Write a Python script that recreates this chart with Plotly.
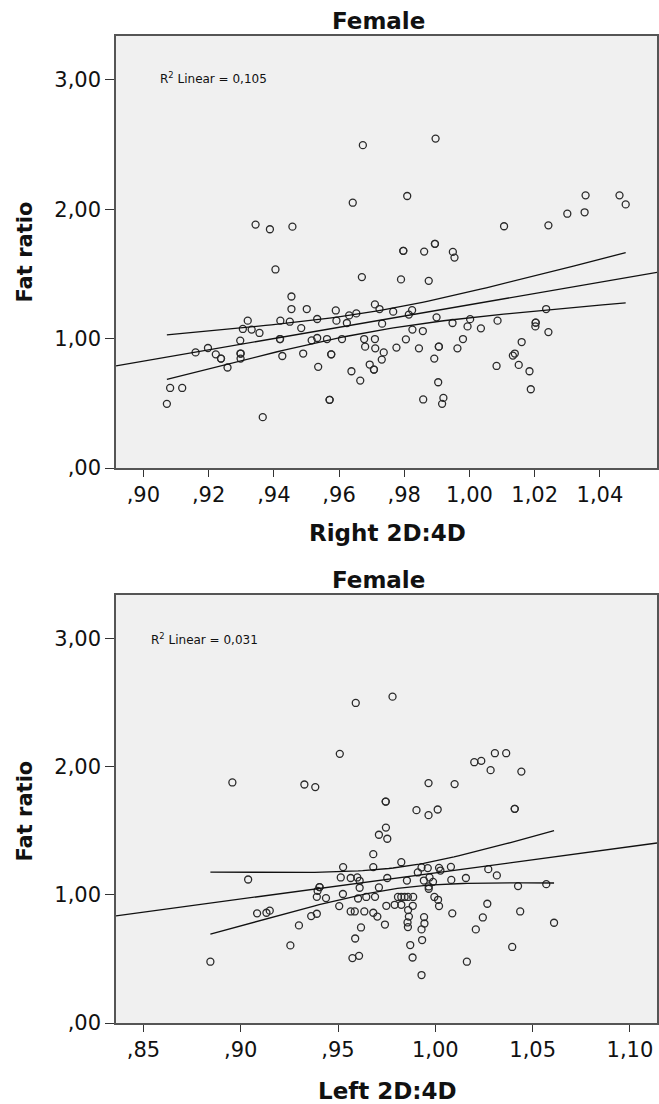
import numpy as np
import plotly.graph_objects as go

# ---------------- data: Right 2D:4D vs Fat ratio ----------------
right_x = [
    0.9673, 0.9642, 0.9344, 0.9388, 0.9457, 0.9405, 0.9670, 0.9454, 0.9454, 0.9501,
    0.9590, 0.9710, 0.9724, 0.9320, 0.9305, 0.9332, 0.9356, 0.9420, 0.9449, 0.9484,
    0.9533, 0.9592, 0.9624, 0.9631, 0.9653, 0.9732, 0.9297, 0.9419, 0.9419, 0.9516,
    0.9533, 0.9563, 0.9609, 0.9677, 0.9710, 0.9680, 0.9711, 0.9737, 0.9731, 0.9694,
    0.9707, 0.9707, 0.9160, 0.9198, 0.9222, 0.9238, 0.9238, 0.9258, 0.9298, 0.9298,
    0.9298, 0.9426, 0.9490, 0.9536, 0.9576, 0.9576, 0.9638, 0.9665, 0.9082, 0.9119,
    0.9072, 0.9366, 0.9571, 0.9571,
    0.9896, 0.9809, 1.0356, 1.0460, 1.0479, 1.0300, 1.0353, 1.0106, 1.0242, 0.9797,
    0.9797, 0.9861, 0.9894, 0.9894, 0.9949, 0.9954, 0.9790, 0.9875, 0.9766, 0.9824,
    0.9814, 0.9899, 0.9948, 0.9994, 1.0002, 1.0035, 1.0086, 1.0235, 1.0203, 1.0203,
    1.0202, 1.0242, 0.9825, 0.9857, 0.9805, 0.9776, 0.9845, 0.9892, 0.9906, 0.9906,
    0.9963, 0.9980, 0.9904, 0.9858, 0.9920, 0.9916, 1.0083, 1.0160, 1.0139, 1.0133,
    1.0151, 1.0184, 1.0188,
]
right_y = [
    2.496, 2.051, 1.882, 1.846, 1.866, 1.535, 1.476, 1.326, 1.229, 1.229,
    1.218, 1.265, 1.229, 1.139, 1.075, 1.070, 1.044, 1.139, 1.131, 1.082,
    1.152, 1.139, 1.121, 1.180, 1.195, 1.116, 0.985, 0.997, 0.997, 0.987,
    1.005, 0.997, 0.997, 0.997, 0.997, 0.938, 0.925, 0.894, 0.838, 0.800,
    0.761, 0.761, 0.894, 0.928, 0.879, 0.846, 0.846, 0.777, 0.885, 0.885,
    0.846, 0.866, 0.885, 0.782, 0.879, 0.879, 0.748, 0.676, 0.619, 0.619,
    0.496, 0.393, 0.527, 0.527,
    2.547, 2.103, 2.108, 2.108, 2.038, 1.966, 1.977, 1.869, 1.876, 1.679,
    1.679, 1.673, 1.733, 1.733, 1.671, 1.627, 1.458, 1.447, 1.209, 1.220,
    1.186, 1.165, 1.121, 1.095, 1.151, 1.080, 1.139, 1.229, 1.124, 1.124,
    1.095, 1.051, 1.070, 1.059, 0.995, 0.931, 0.925, 0.846, 0.938, 0.938,
    0.925, 0.997, 0.663, 0.530, 0.542, 0.496, 0.789, 0.974, 0.885, 0.869,
    0.797, 0.748, 0.609,
]

# ---------------- data: Left 2D:4D vs Fat ratio ----------------
left_x = [
    0.9591, 0.9509, 0.8957, 0.9327, 0.9383, 0.9038, 0.9526, 0.9681, 0.9681, 0.9514,
    0.9565, 0.9599, 0.9611, 0.9611, 0.9405, 0.9405, 0.9395, 0.9391, 0.9438, 0.9525,
    0.9506, 0.9603, 0.9645, 0.9690, 0.9710, 0.9565, 0.9586, 0.9635, 0.9681, 0.9702,
    0.9618, 0.9588, 0.9574, 0.9608, 0.9084, 0.9132, 0.9149, 0.9362, 0.9391, 0.9299,
    0.9255, 0.8844, 0.9710,
    0.9780, 0.9745, 0.9745, 0.9746, 0.9753, 0.9965, 1.0099, 1.0200, 1.0236, 1.0306,
    1.0364, 1.0284, 1.0442, 1.0408, 1.0408, 0.9903, 0.9965, 1.0012, 0.9825, 0.9929,
    0.9961, 1.0019, 1.0026, 1.0080, 0.9910, 0.9753, 0.9854, 0.9941, 0.9970, 0.9988,
    0.9966, 0.9966, 1.0082, 1.0157, 1.0272, 1.0316, 1.0425, 1.0570, 0.9808, 0.9825,
    0.9842, 0.9859, 0.9886, 0.9748, 0.9791, 0.9825, 0.9884, 0.9860, 0.9864, 0.9857,
    0.9859, 0.9942, 0.9944, 0.9929, 0.9932, 0.9871, 0.9883, 0.9929, 0.9741, 1.0019,
    0.9995, 1.0014, 1.0087, 1.0267, 1.0244, 1.0208, 1.0436, 1.0610, 1.0395, 1.0162,
]
left_y = [
    2.496, 2.099, 1.876, 1.860, 1.840, 1.119, 1.216, 1.317, 1.216, 1.135,
    1.131, 1.135, 1.109, 1.055, 1.060, 1.060, 1.031, 0.984, 0.974, 1.006,
    0.912, 0.971, 0.983, 0.984, 1.057, 0.870, 0.870, 0.870, 0.860, 0.830,
    0.745, 0.659, 0.506, 0.524, 0.855, 0.860, 0.876, 0.834, 0.852, 0.761,
    0.605, 0.478, 1.468,
    2.545, 1.727, 1.727, 1.524, 1.437, 1.871, 1.863, 2.034, 2.044, 2.104,
    2.104, 1.972, 1.961, 1.670, 1.670, 1.660, 1.621, 1.665, 1.254, 1.213,
    1.208, 1.210, 1.189, 1.218, 1.174, 1.131, 1.111, 1.111, 1.135, 1.101,
    1.065, 1.047, 1.116, 1.131, 1.200, 1.151, 1.068, 1.083, 0.983, 0.983,
    0.983, 0.983, 0.983, 0.914, 0.922, 0.922, 0.914, 0.881, 0.830, 0.784,
    0.748, 0.826, 0.776, 0.730, 0.647, 0.608, 0.511, 0.374, 0.768, 0.912,
    0.983, 0.961, 0.855, 0.930, 0.823, 0.730, 0.870, 0.782, 0.593, 0.478,
]

y_ticks = [0, 1, 2, 3]
y_ticktext = [",00", "1,00", "2,00", "3,00"]
right_ticks = [0.90, 0.92, 0.94, 0.96, 0.98, 1.00, 1.02, 1.04]
right_ticktext = [",90", ",92", ",94", ",96", ",98", "1,00", "1,02", "1,04"]
left_ticks = [0.85, 0.90, 0.95, 1.00, 1.05, 1.10]
left_ticktext = [",85", ",90", ",95", "1,00", "1,05", "1,10"]
r2_right = "0,105"
r2_left = "0,031"

T_CRIT = 1.98  # 95% two-sided t value, df ~ 105

FONT = "DejaVu Sans"
MARK = "#2a2a2a"
LINE = "#111111"

fig = go.Figure()


def add_panel(xv, yv, xa, ya, xrange):
    x = np.asarray(xv, dtype=float)
    y = np.asarray(yv, dtype=float)
    b, a = np.polyfit(x, y, 1)
    n = len(x)
    resid = y - (a + b * x)
    s = np.sqrt(np.sum(resid ** 2) / (n - 2))
    xbar = x.mean()
    sxx = np.sum((x - xbar) ** 2)
    fig.add_trace(go.Scatter(
        x=x, y=y, mode="markers", xaxis=xa, yaxis=ya,
        marker=dict(symbol="circle-open", size=7, color=MARK, line=dict(width=1.3, color=MARK)),
        hoverinfo="skip"))
    xf = np.array(xrange)
    fig.add_trace(go.Scatter(x=xf, y=a + b * xf, mode="lines", xaxis=xa, yaxis=ya,
                             line=dict(color=LINE, width=1.3), hoverinfo="skip"))
    xc = np.linspace(x.min(), x.max(), 80)
    se = s * np.sqrt(1.0 / n + (xc - xbar) ** 2 / sxx)
    for sign in (1, -1):
        fig.add_trace(go.Scatter(x=xc, y=a + b * xc + sign * T_CRIT * se, mode="lines",
                                 xaxis=xa, yaxis=ya, line=dict(color=LINE, width=1.3),
                                 hoverinfo="skip"))


R_RANGE = [0.8916, 1.0575]
L_RANGE = [0.8359, 1.1139]
add_panel(right_x, right_y, "x", "y", R_RANGE)
add_panel(left_x, left_y, "x2", "y2", L_RANGE)

axis_common = dict(
    showgrid=False, zeroline=False, showline=True, linecolor="#555555", linewidth=1.5,
    mirror=True, ticks="outside", tickcolor="#333333", tickwidth=1.3,
    tickfont=dict(family=FONT, size=21, color="#111111"),
)

fig.update_layout(
    width=659, height=1104,
    margin=dict(l=116, r=0, t=36, b=81),
    paper_bgcolor="white", plot_bgcolor="#f0f0f0",
    showlegend=False,
    xaxis=dict(domain=[0, 1], anchor="y", range=R_RANGE, tickvals=right_ticks,
               ticktext=right_ticktext, ticklen=7, **axis_common),
    yaxis=dict(domain=[0.5623, 1], anchor="x", range=[0, 3.34], tickvals=y_ticks,
               ticktext=y_ticktext, ticklen=9, **axis_common),
    xaxis2=dict(domain=[0, 1], anchor="y2", range=L_RANGE, tickvals=left_ticks,
                ticktext=left_ticktext, ticklen=7, **axis_common),
    yaxis2=dict(domain=[0, 0.4339], anchor="x2", range=[0, 3.34], tickvals=y_ticks,
                ticktext=y_ticktext, ticklen=9, **axis_common),
)

bold = dict(family=FONT, size=23, color="#111111")
ann = [
    dict(text="<b>Female</b>", x=0.486, y=1.0155, font=bold),
    dict(text="<b>Female</b>", x=0.486, y=0.4491, font=bold),
    dict(text="<b>Right 2D:4D</b>", x=0.502, y=0.4964, font=bold),
    dict(text="<b>Left 2D:4D</b>", x=0.502, y=-0.0693, font=bold),
    dict(text="<b>Fat ratio</b>", x=-0.1685, y=0.7815, textangle=-90,
         font=dict(family=FONT, size=21, color="#111111")),
    dict(text="<b>Fat ratio</b>", x=-0.1685, y=0.2151, textangle=-90,
         font=dict(family=FONT, size=21, color="#111111")),
]
for a_ in ann:
    fig.add_annotation(xref="paper", yref="paper", showarrow=False,
                       xanchor="center", yanchor="middle", **a_)

fig.add_annotation(xref="paper", yref="paper", x=0.0773, y=0.9578, showarrow=False,
                   xanchor="left", yanchor="middle",
                   text="R<sup>2</sup> Linear = " + r2_right,
                   font=dict(family=FONT, size=12, color="#111111"))
fig.add_annotation(xref="paper", yref="paper", x=0.0608, y=0.3889, showarrow=False,
                   xanchor="left", yanchor="middle",
                   text="R<sup>2</sup> Linear = " + r2_left,
                   font=dict(family=FONT, size=12, color="#111111"))

fig.write_html("out.html", config={"displayModeBar": False},
               post_script="document.body.style.margin='0';document.body.style.overflow='hidden';")
